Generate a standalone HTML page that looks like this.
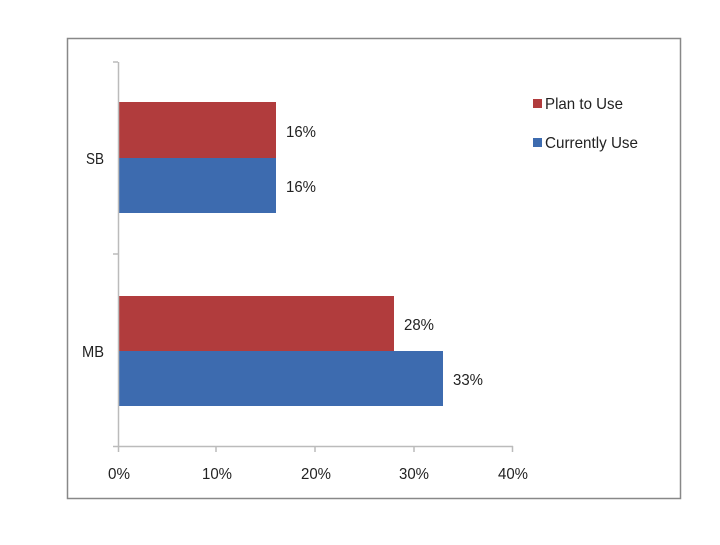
<!DOCTYPE html>
<html><head><style>
body{margin:0;background:#fff;}
svg text{font-family:"Liberation Sans Narrow","Liberation Sans",sans-serif;font-size:16px;fill:#222;}
</style></head><body>
<svg width="720" height="540" xmlns="http://www.w3.org/2000/svg">
<rect x="67.5" y="38.5" width="613" height="460" fill="#fff" stroke="#888" stroke-width="1.5"/>
<rect x="119" y="102" width="157" height="56" fill="#B13C3D"/>
<rect x="119" y="158" width="157" height="55" fill="#3D6BAF"/>
<rect x="119" y="296" width="275" height="55" fill="#B13C3D"/>
<rect x="119" y="351" width="324" height="55" fill="#3D6BAF"/>
<g stroke="#bbb" stroke-width="1.5" fill="none">
<line x1="118.5" y1="62" x2="118.5" y2="452"/>
<line x1="113" y1="446.5" x2="513" y2="446.5"/>
<line x1="113" y1="62" x2="118" y2="62"/>
<line x1="113" y1="254" x2="118" y2="254"/>
<line x1="216" y1="446" x2="216" y2="452"/>
<line x1="315" y1="446" x2="315" y2="452"/>
<line x1="414" y1="446" x2="414" y2="452"/>
<line x1="512.5" y1="446" x2="512.5" y2="452"/>
</g>
<g lengthAdjust="spacingAndGlyphs">
<text x="86" y="164" textLength="18" lengthAdjust="spacingAndGlyphs">SB</text>
<text x="82" y="357" textLength="22" lengthAdjust="spacingAndGlyphs">MB</text>
<text x="286" y="137" textLength="30" lengthAdjust="spacingAndGlyphs">16%</text>
<text x="286" y="192" textLength="30" lengthAdjust="spacingAndGlyphs">16%</text>
<text x="404" y="330" textLength="30" lengthAdjust="spacingAndGlyphs">28%</text>
<text x="453" y="385" textLength="30" lengthAdjust="spacingAndGlyphs">33%</text>
<text x="108" y="479" textLength="22" lengthAdjust="spacingAndGlyphs">0%</text>
<text x="202" y="479" textLength="30" lengthAdjust="spacingAndGlyphs">10%</text>
<text x="301" y="479" textLength="30" lengthAdjust="spacingAndGlyphs">20%</text>
<text x="399" y="479" textLength="30" lengthAdjust="spacingAndGlyphs">30%</text>
<text x="498" y="479" textLength="30" lengthAdjust="spacingAndGlyphs">40%</text>
<rect x="533" y="99" width="9" height="9" fill="#B13C3D"/>
<text x="545" y="109" textLength="78" lengthAdjust="spacingAndGlyphs">Plan to Use</text>
<rect x="533" y="138" width="9" height="9" fill="#3D6BAF"/>
<text x="545" y="148" textLength="93" lengthAdjust="spacingAndGlyphs">Currently Use</text>
</g>
</svg>
</body></html>
